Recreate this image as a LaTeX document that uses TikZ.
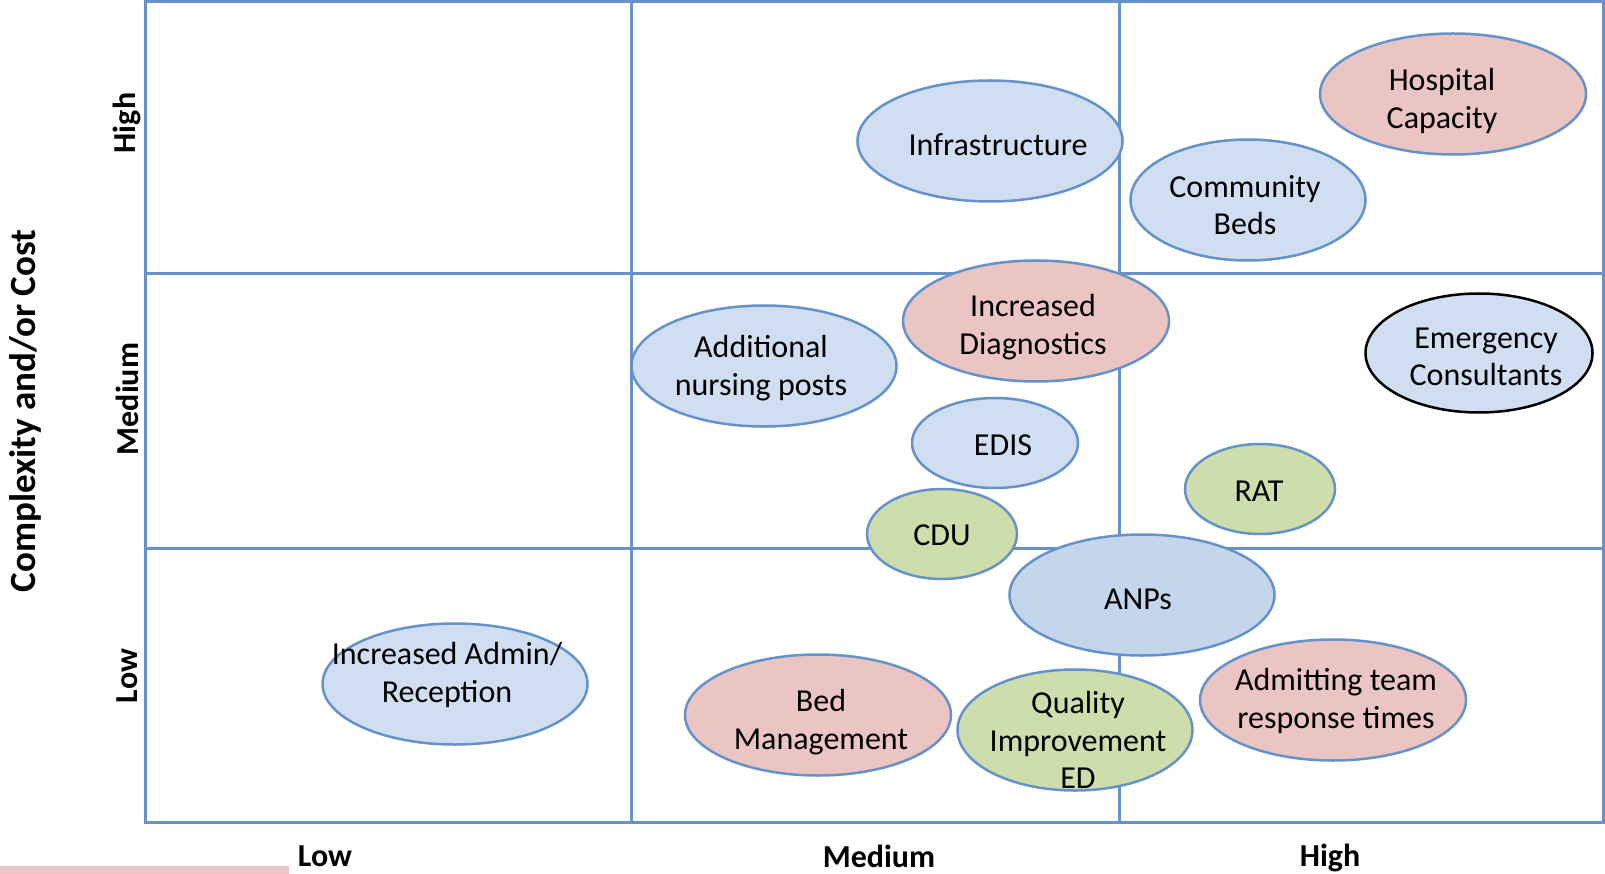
\documentclass[tikz,border=0pt]{standalone}
\usepackage{fontspec}
\setmainfont{Carlito}
\usetikzlibrary{shapes.geometric}
\definecolor{gridblue}{RGB}{101,146,201}
\definecolor{bluefill}{RGB}{207,222,240}
\definecolor{anpfill}{RGB}{196,214,235}
\definecolor{pinkfill}{RGB}{235,196,196}
\definecolor{greenfill}{RGB}{205,221,172}
\tikzstyle{bubble}=[
        ellipse, draw=gridblue, line width=2.5pt, inner sep=0pt
]
\tikzstyle{bubbletext}=[
        align=center, inner sep=0pt, font=\fontsize{32}{37.5}\selectfont
]
\tikzstyle{axislabel}=[
        font=\bfseries\fontsize{32}{38}\selectfont
]

\begin{document}
\begin{tikzpicture}[x=1pt,y=-1pt]
                        \useasboundingbox (0,0) rectangle (1605,874);

                        % grid of the matrix
                        \draw[gridblue, line width=3pt] (145,2) rectangle (1603,822);
                        \draw[gridblue, line width=3pt] (631,2) -- (631,822);
                        \draw[gridblue, line width=3pt] (1119,2) -- (1119,822);
                        \draw[gridblue, line width=3pt] (145,274) -- (1603,274);
                        \draw[gridblue, line width=3pt] (145,548) -- (1603,548);

                        \fill[pinkfill] (0,866) rectangle (289,874);

                        % axis labels
                        \node[axislabel] (xlow) at (325,856) {Low};
                        \node[axislabel] (xmed) at (879,856) {Medium};
                        \node[axislabel] (xhigh) at (1330,858) {High};
                        \node[axislabel, rotate=90] (yhigh) at (127,123) {High};
                        \node[axislabel, rotate=90] (ymed) at (127,399) {Medium};
                        \node[axislabel, rotate=90] (ylow) at (127,676) {Low};
                        \node[axislabel, font=\bfseries\fontsize{37}{44}\selectfont, rotate=90] (ytitle) at (25,411) {Complexity and/or Cost};

                        % bubbles
                        \node[bubble, fill=bluefill, minimum width=265, minimum height=121] (infra) at (990,141) {};
                        \node[bubbletext] (infra-t) at (998,145) {Infrastructure};

                        \node[bubble, fill=pinkfill, minimum width=266, minimum height=121] (hosp) at (1453,94) {};
                        \node[bubbletext] (hosp-t) at (1442,101) {Hospital\\Capacity};

                        \node[bubble, fill=bluefill, minimum width=235, minimum height=121] (comm) at (1248,200) {};
                        \node[bubbletext] (comm-t) at (1245,205) {Community\\Beds};

                        \node[bubble, fill=pinkfill, minimum width=266, minimum height=121] (diag) at (1036,321) {};
                        \node[bubbletext] (diag-t) at (1033,327) {Increased\\Diagnostics};

                        \node[bubble, fill=bluefill, minimum width=265, minimum height=121] (nurse) at (764,366) {};
                        \node[bubbletext] (nurse-t) at (761,368) {Additional\\nursing posts};

                        \node[bubble, draw=black, fill=bluefill, minimum width=227, minimum height=119] (cons) at (1479,353) {};
                        \node[bubbletext] (cons-t) at (1486,357) {Emergency\\Consultants};

                        \node[bubble, fill=bluefill, minimum width=166, minimum height=90] (edis) at (995,443) {};
                        \node[bubbletext] (edis-t) at (1003,445) {EDIS};

                        \node[bubble, fill=greenfill, minimum width=150, minimum height=90] (rat) at (1260,489) {};
                        \node[bubbletext] (rat-t) at (1259,491) {RAT};

                        \node[bubble, fill=greenfill, minimum width=150, minimum height=90] (cdu) at (942,534) {};
                        \node[bubbletext] (cdu-t) at (942,535) {CDU};

                        \node[bubble, fill=anpfill, minimum width=265, minimum height=121] (anp) at (1142,595) {};
                        \node[bubbletext] (anp-t) at (1138,599) {ANPs};

                        \node[bubble, fill=bluefill, minimum width=265, minimum height=121] (admin) at (455,684) {};
                        \node[bubbletext] (admin-t) at (447,675) {Increased Admin/\\Reception};

                        \node[bubble, fill=pinkfill, minimum width=266, minimum height=121] (bed) at (818,715) {};
                        \node[bubbletext] (bed-t) at (821,722) {Bed\\Management};

                        \node[bubble, fill=greenfill, minimum width=235, minimum height=121] (qual) at (1075,730) {};
                        \node[bubbletext] (qual-t) at (1078,740) {Quality\\Improvement\\ED};

                        \node[bubble, fill=pinkfill, minimum width=266, minimum height=121] (admit) at (1333,700) {};
                        \node[bubbletext] (admit-t) at (1336,701) {Admitting team\\response times};

                    \end{tikzpicture}
\end{document}
